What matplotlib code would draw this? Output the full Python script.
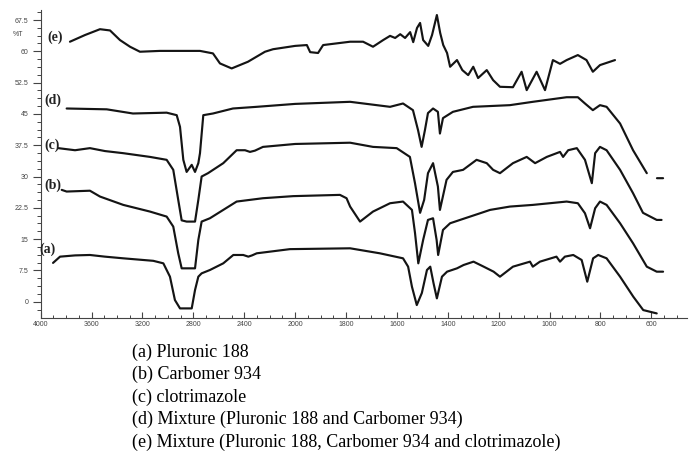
import numpy as np
import matplotlib
matplotlib.use("Agg")
import matplotlib.pyplot as plt

# wavenumber (cm-1) and %T, one pair of lists per spectrum
wn_a = [3903, 3848, 3730, 3613, 3495, 3351, 3115, 3036, 2984, 2945, 2905, 2813, 2787, 2761,
        2735, 2670, 2565, 2486, 2408, 2368, 2339, 2302, 2041, 1784, 1667, 1576, 1556, 1541,
        1522, 1502, 1482, 1469, 1456, 1443, 1423, 1403, 1364, 1338, 1299, 1259, 1220, 1195,
        1144, 1077, 1066, 1038, 973, 959, 940, 907, 874, 852, 829, 809, 776, 723, 671, 632, 579]
t_a = [9.3, 10.8, 11.1, 11.2, 10.8, 10.4, 9.8, 9.2, 6.0, 0.4, -1.6, -1.6, 2.8, 6.0,
       6.8, 7.6, 9.2, 11.2, 11.2, 10.8, 11.1, 11.6, 12.6, 12.8, 11.6, 10.4, 8.4, 3.6,
       -0.8, 2.1, 7.6, 8.4, 4.4, 0.8, 6.0, 7.2, 8.0, 8.8, 9.6, 8.4, 7.2, 6.0,
       8.4, 9.6, 8.4, 9.6, 10.8, 9.6, 10.8, 11.2, 10.0, 4.8, 10.4, 11.2, 10.4, 6.0, 1.2, -2.0, -2.8]

wn_b = [3835, 3796, 3613, 3534, 3351, 3141, 3010, 2958, 2919, 2892, 2787, 2761, 2735, 2670,
        2565, 2460, 2253, 2015, 1824, 1798, 1784, 1745, 1694, 1627, 1576, 1541, 1529, 1516,
        1497, 1478, 1458, 1444, 1438, 1419, 1391, 1352, 1273, 1234, 1156, 1066, 933, 889,
        861, 841, 821, 802, 776, 723, 672, 618, 579, 554]
t_b = [26.8, 26.4, 26.6, 25.2, 23.2, 21.6, 20.4, 18.0, 11.6, 8.0, 8.0, 14.8, 19.2, 20.0,
       22.0, 24.0, 24.8, 25.3, 25.6, 24.8, 22.8, 19.2, 21.6, 23.6, 24.0, 22.0, 16.5, 9.2,
       14.8, 19.6, 20.0, 14.8, 11.2, 17.2, 18.8, 19.6, 21.2, 22.0, 22.8, 23.2, 24.0, 23.6,
       21.2, 17.6, 22.4, 24.0, 23.2, 18.8, 14.0, 8.4, 7.2, 7.2]

wn_c = [3862, 3730, 3613, 3495, 3353, 3141, 3010, 2958, 2919, 2892, 2853, 2787, 2761, 2735,
        2685, 2565, 2460, 2394, 2355, 2316, 2253, 2000, 1784, 1694, 1601, 1549, 1529, 1509,
        1493, 1478, 1458, 1439, 1431, 1405, 1380, 1340, 1287, 1247, 1222, 1195, 1144, 1090,
        1057, 1011, 959, 947, 927, 893, 861, 834, 821, 802, 776, 723, 672, 633, 579, 560]
t_c = [36.8, 36.3, 36.8, 36.1, 35.6, 34.7, 34.0, 31.6, 24.4, 19.5, 19.2, 19.2, 24.4, 30.0,
       30.8, 33.2, 36.3, 36.3, 35.9, 36.2, 37.1, 37.8, 38.1, 37.1, 36.8, 34.7, 28.4, 21.3,
       24.4, 30.8, 33.2, 27.6, 22.0, 29.2, 31.1, 31.6, 34.0, 33.2, 31.6, 30.8, 33.2, 34.7,
       33.2, 34.7, 35.9, 34.7, 36.3, 36.8, 34.0, 28.4, 35.6, 37.1, 36.3, 31.6, 26.0, 21.3, 19.6, 19.6]

wn_d = [3796, 3481, 3275, 3010, 2931, 2905, 2879, 2853, 2813, 2787, 2761, 2748, 2722, 2646,
        2489, 2302, 2000, 1784, 1627, 1576, 1537, 1517, 1503, 1490, 1478, 1458, 1439, 1431,
        1419, 1380, 1301, 1156, 1066, 933, 889, 861, 830, 802, 776, 723, 672, 618, np.nan, 578, 554]
t_d = [46.3, 46.1, 45.1, 45.3, 44.7, 41.9, 34.0, 31.1, 32.8, 31.1, 33.2, 35.6, 44.7, 45.1,
       46.3, 46.7, 47.4, 47.9, 46.7, 47.5, 45.9, 41.1, 37.1, 41.1, 45.2, 46.3, 45.5, 40.3,
       44.0, 45.5, 46.7, 47.1, 47.9, 49.0, 49.0, 47.5, 45.9, 47.1, 46.7, 42.7, 36.3, 30.8, np.nan, 29.6, 29.6]

wn_e = [3770, 3652, 3534, 3455, 3377, 3298, 3220, 3063, 2748, 2646, 2591, 2499, 2371, 2237,
        2174, 2000, 1954, 1941, 1910, 1890, 1784, 1733, 1694, 1654, 1627, 1607, 1587, 1568,
        1548, 1536, 1521, 1509, 1497, 1477, 1462, 1443, 1430, 1418, 1403, 1391, 1364, 1343,
        1320, 1300, 1281, 1247, 1222, 1195, 1144, 1110, 1090, 1051, 1018, 987, 959, 933,
        889, 855, 830, 802, 743]
t_e = [62.3, 63.9, 65.3, 65.0, 62.7, 61.1, 59.9, 60.1, 60.1, 59.5, 57.1, 55.9, 57.5, 59.9,
       60.5, 61.3, 61.5, 59.8, 59.6, 61.5, 62.3, 62.3, 61.1, 62.7, 63.7, 63.2, 64.1, 63.2,
       64.6, 62.2, 65.6, 66.8, 62.7, 61.3, 63.9, 68.7, 64.4, 61.5, 59.6, 56.3, 57.9, 55.5,
       54.3, 56.3, 53.6, 55.5, 53.1, 51.5, 51.4, 55.1, 50.7, 55.1, 50.7, 57.9, 57.0, 57.9,
       59.1, 57.9, 55.1, 56.7, 57.9]

curve_names = ["(a)", "(b)", "(c)", "(d)", "(e)"]
name_pos = [(3950, 12.6), (3903, 28.0), (3911, 37.5), (3903, 48.3), (3888, 63.3)]

major_wn = [4000, 3600, 3200, 2800, 2400, 2000, 1800, 1600, 1400, 1200, 1000, 800, 600]
minor_wn = list(range(3900, 2000, -100)) + list(range(1950, 450, -50))
y_ticks = [0, 7.5, 15, 22.5, 30, 37.5, 45, 52.5, 60, 67.5]
y_labels = ["0", "7.5", "15", "22.5", "30", "37.5", "45", "52.5", "60", "67.5"]

captions = ["(a) Pluronic 188",
            "(b) Carbomer 934",
            "(c) clotrimazole",
            "(d) Mixture (Pluronic 188 and Carbomer 934)",
            "(e) Mixture (Pluronic 188, Carbomer 934 and clotrimazole)"]


# the instrument halves the scale below 2000 cm-1
def fwd(x):
    x = np.asarray(x, dtype=float)
    return np.where(x >= 2000, x, 2 * x - 2000)


def inv(y):
    y = np.asarray(y, dtype=float)
    return np.where(y >= 2000, y, (y + 2000) / 2)


W, H = 689, 453
fig = plt.figure(figsize=(W / 100, H / 100), dpi=100)
ax = fig.add_axes([40.7 / W, 1 - 318 / H, (687 - 40.7) / W, (318 - 10) / H])
ax.set_xscale("function", functions=(fwd, inv))

for wn, t in [(wn_a, t_a), (wn_b, t_b), (wn_c, t_c), (wn_d, t_d), (wn_e, t_e)]:
    ax.plot(wn, t, color="#141414", lw=1.55, solid_joinstyle="round", solid_capstyle="round")

for name, (x, y) in zip(curve_names, name_pos):
    ax.text(x, y, name, fontsize=10, fontweight="bold", family="Liberation Serif",
            ha="center", va="center", color="#222")

ax.set_xlim(4000, 460)
ax.set_ylim(-3.9, 69.9)

ax.set_xticks(major_wn)
ax.set_xticklabels([str(v) for v in major_wn])
ax.set_xticks(minor_wn, minor=True)
ax.set_yticks(y_ticks)
ax.set_yticklabels(y_labels)
ax.set_yticks(np.arange(-1.875, 69.9, 1.875), minor=True)

ax.tick_params(axis="x", which="major", direction="in", length=4, width=0.8, pad=2,
               labelsize=5, colors="#444")
ax.tick_params(axis="x", which="minor", direction="in", length=2.5, width=0.7, colors="#444")
ax.tick_params(axis="y", which="major", direction="out", length=6, width=0.8, pad=3,
               labelsize=5, colors="#444")
ax.tick_params(axis="y", which="minor", direction="out", length=3, width=0.7, colors="#444")
for lab in ax.get_xticklabels() + ax.get_yticklabels():
    lab.set_family("Liberation Sans")

ax.spines["top"].set_visible(False)
ax.spines["right"].set_visible(False)
ax.spines["left"].set_color("#444")
ax.spines["bottom"].set_color("#444")
ax.spines["left"].set_linewidth(0.8)
ax.spines["bottom"].set_linewidth(0.8)

fig.text(18 / W, 1 - 34 / H, "%T", fontsize=5, family="Liberation Sans",
         ha="center", va="center", color="#444")

for i, line in enumerate(captions):
    fig.text(131.7 / W, 1 - (352 + 22.5 * i) / H, line, fontsize=13,
             family="Liberation Serif", ha="left", va="center")

fig.savefig("out.png", dpi=100)
